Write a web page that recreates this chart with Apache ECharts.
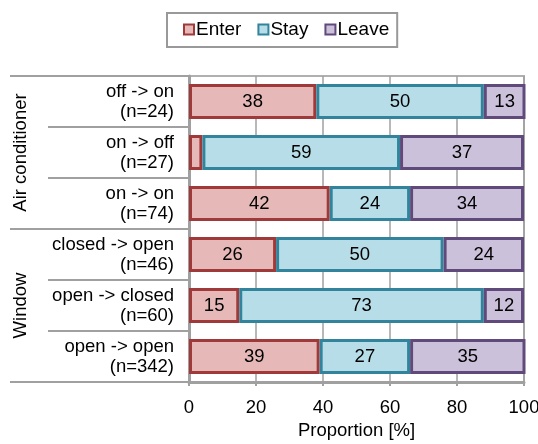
<!DOCTYPE html>
<html>
<head>
<meta charset="utf-8">
<script src="https://cdn.jsdelivr.net/npm/echarts@6/dist/echarts.min.js"></script>
<style>
  html, body { margin: 0; padding: 0; background: #fff; }
  #chart { width: 538px; height: 444px; }
</style>
</head>
<body>
<div id="chart"></div>
<script>
// Transitions observed per device, with sample sizes
const transitions = ['off -> on', 'on -> off', 'on -> on', 'closed -> open', 'open -> closed', 'open -> open'];
const counts = [24, 27, 74, 46, 60, 342];
const groups = ['Air conditioner', 'Window'];

// Share of occupants (%) per transition
const enter = [38, 4, 42, 26, 15, 39];
const stay = [50, 59, 24, 50, 73, 27];
const leave = [13, 37, 34, 24, 12, 35];

const xTicks = [0, 20, 40, 60, 80, 100];

const FONT = '"Liberation Sans", Arial, sans-serif';
const FS = 18.5;
const GRAY = '#a0a0a0';

const categoryLabels = transitions.map((t, i) => t + '\n(n=' + counts[i] + ')');

function barSeries(name, values, fill, border) {
  return {
    name: name,
    type: 'bar',
    stack: 'total',
    yAxisIndex: 0,
    barCategoryGap: '31%',
    data: values,
    itemStyle: { color: fill, borderColor: border, borderWidth: 3 },
    label: {
      show: true,
      position: 'inside',
      color: '#000',
      fontFamily: FONT,
      fontSize: FS,
      formatter: p => (p.value < 5 ? '' : String(p.value))
    },
    emphasis: { disabled: true }
  };
}

const chart = echarts.init(document.getElementById('chart'), null, { renderer: 'canvas' });

chart.setOption({
  animation: false,
  backgroundColor: '#fff',
  textStyle: { fontFamily: FONT },
  legend: {
    data: ['Enter', 'Stay', 'Leave'],
    left: 167,
    top: 13,
    icon: 'rect',
    itemWidth: 10,
    itemHeight: 10,
    itemGap: 16,
    padding: [7, 8, 8, 16],
    borderColor: '#999',
    borderWidth: 2,
    itemStyle: { borderWidth: 2 },
    textStyle: { fontFamily: FONT, fontSize: 19, color: '#000', padding: [0, 0, 0, -3] }
  },
  grid: {
    left: 189,
    right: 14,
    top: 76,
    bottom: 62,
    show: true,
    borderColor: '#b0b0b0',
    borderWidth: 2,
    containLabel: false,
    outerBoundsMode: 'none'
  },
  xAxis: {
    type: 'value',
    min: xTicks[0],
    max: xTicks[xTicks.length - 1],
    interval: xTicks[1] - xTicks[0],
    name: 'Proportion [%]',
    nameLocation: 'middle',
    nameGap: 38,
    nameTextStyle: { fontFamily: FONT, fontSize: FS, color: '#000' },
    axisLine: { show: true, lineStyle: { color: GRAY, width: 3 } },
    axisTick: { show: true, length: 4, lineStyle: { color: GRAY, width: 2 } },
    axisLabel: { fontFamily: FONT, fontSize: FS, color: '#000', margin: 16 },
    splitLine: { show: true, lineStyle: { color: GRAY, width: 1.5 } }
  },
  yAxis: [
    {
      type: 'category',
      inverse: true,
      data: categoryLabels,
      position: 'left',
      axisLine: { show: true, lineStyle: { color: GRAY, width: 3 } },
      axisTick: { show: true, length: 141, lineStyle: { color: GRAY, width: 2 } },
      axisLabel: {
        interval: 0,
        fontFamily: FONT,
        fontSize: FS,
        color: '#000',
        lineHeight: 20,
        margin: 15,
        align: 'right',
        padding: [9, 0, 0, 0]
      },
      splitLine: { show: false }
    },
    {
      type: 'category',
      inverse: true,
      data: groups,
      position: 'left',
      offset: 0,
      axisLine: { show: false },
      axisTick: { show: true, interval: 0, length: 179, lineStyle: { color: GRAY, width: 2 } },
      axisLabel: {
        interval: 0,
        hideOverlap: false,
        fontFamily: FONT,
        fontSize: FS,
        color: '#000',
        rotate: 90,
        margin: 159
      },
      splitLine: { show: false }
    }
  ],
  series: [
    barSeries('Enter', enter, '#e6b9b8', '#a0393a'),
    barSeries('Stay', stay, '#b7dee8', '#31849b'),
    barSeries('Leave', leave, '#ccc1da', '#604a7b')
  ]
});
</script>
</body>
</html>
